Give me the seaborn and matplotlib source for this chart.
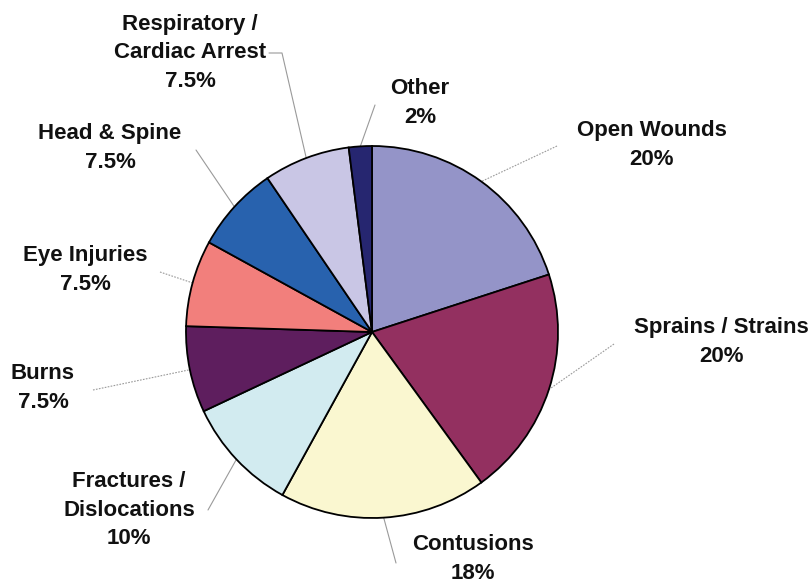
import numpy as np
import matplotlib
matplotlib.use("Agg")
import matplotlib.pyplot as plt
import seaborn as sns

# injury categories, shares (%) and printed values
categories = ["Open Wounds", "Sprains / Strains", "Contusions", "Fractures /\nDislocations",
              "Burns", "Eye Injuries", "Head & Spine", "Respiratory /\nCardiac Arrest", "Other"]
shares = [20, 20, 18, 10, 7.5, 7.5, 7.5, 7.5, 2]
pct_labels = ["20%", "20%", "18%", "10%", "7.5%", "7.5%", "7.5%", "7.5%", "2%"]
colors = ["#9494c8", "#933060", "#faf7d0", "#d2ebf0", "#5e1e5e",
          "#f27f7c", "#2862ae", "#c9c6e5", "#262670"]

W, H = 810, 587
CX, CY, R = 372, 332, 186  # pie centre / radius in image pixels

# label block centres and leader start points (image pixels)
label_pos = [(652, 145), (721, 342), (473, 559), (129, 510), (43, 388),
             (85, 270), (110, 148), (190, 53), (420, 103)]
leader_start = [(557, 146), (614, 344), (396, 563), (208, 510), (93, 390),
                (160, 272), (196, 150), (282, 53), (375, 105)]
dotted = [True, True, False, False, True, True, False, False, False]


def to_data(p):
    return p[0], H - p[1]


sns.set_theme(style="white")
plt.rcParams["font.family"] = ["Liberation Sans", "DejaVu Sans"]

fig = plt.figure(figsize=(W / 100, H / 100), dpi=100)
ax = fig.add_axes([0, 0, 1, 1])
wedges, _ = ax.pie(shares, colors=colors, startangle=90, counterclock=False,
                   center=(CX, H - CY), radius=R,
                   wedgeprops=dict(edgecolor="black", linewidth=1.3))

for w, cat, pct, lp, ls, dot in zip(wedges, categories, pct_labels,
                                     label_pos, leader_start, dotted):
    mid = np.deg2rad((w.theta1 + w.theta2) / 2)
    ax_pt = (CX + R * np.cos(mid), H - CY + R * np.sin(mid))
    sx, sy = to_data(ls)
    xs, ys = [sx, ax_pt[0]], [sy, ax_pt[1]]
    if cat.startswith("Respiratory"):
        xs, ys = [269, sx, ax_pt[0]], [sy, sy, ax_pt[1]]
    ax.plot(xs, ys, color="#9a9a9a", lw=0.8,
            ls=(0, (1.5, 1.2)) if dot else "-", zorder=0)
    tx, ty = to_data(lp)
    ax.text(tx, ty, f"{cat}\n{pct}", ha="center", va="center",
            fontsize=16, fontweight="bold", linespacing=1.45, color="#111111")

ax.set_xlim(0, W)
ax.set_ylim(0, H)
ax.set_aspect("equal")
ax.axis("off")
fig.savefig("out.png", dpi=100, facecolor="white")
